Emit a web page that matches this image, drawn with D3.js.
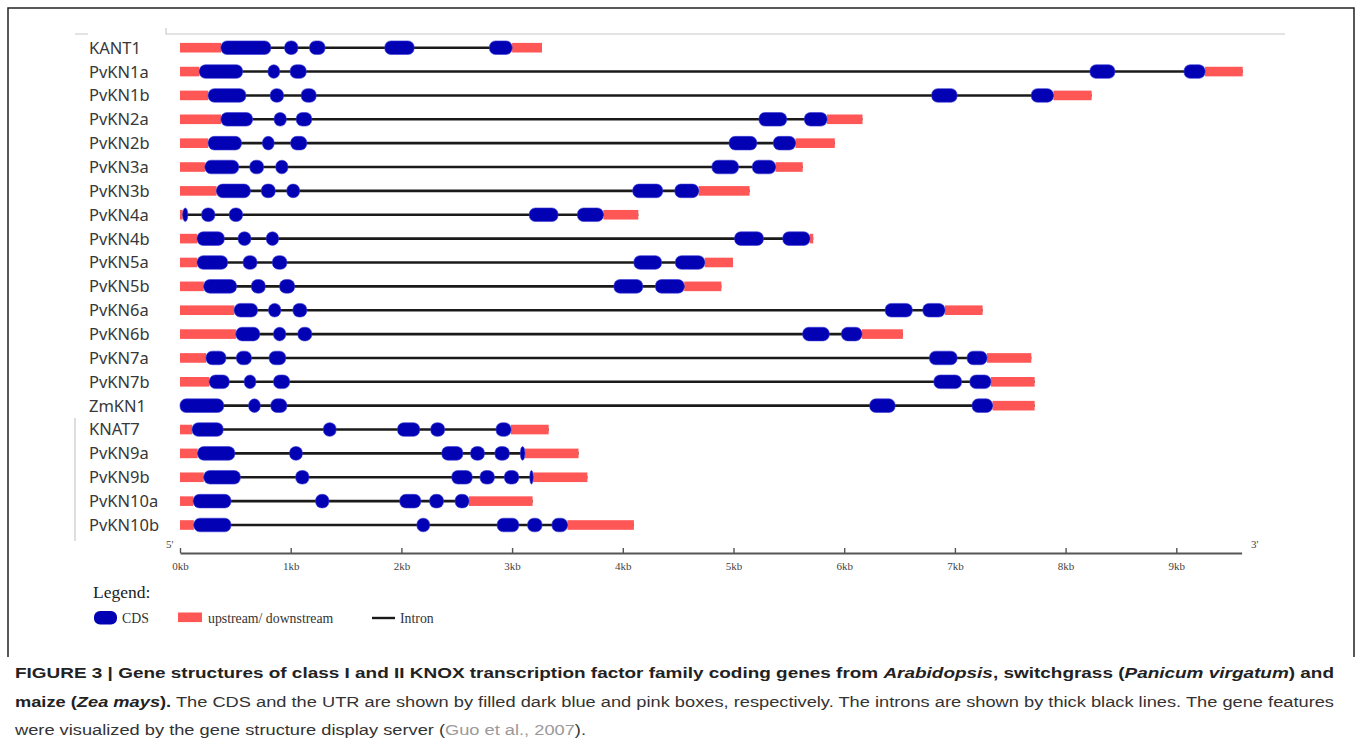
<!DOCTYPE html>
<html>
<head>
<meta charset="utf-8">
<script src="https://cdn.jsdelivr.net/npm/d3@7"></script>
<style>
  body { margin: 0; background: #fff; }
  svg { display: block; }
</style>
</head>
<body>
<div id="vis1"></div>
<script>
// gene names, top to bottom
const GENES = ['KANT1', 'PvKN1a', 'PvKN1b', 'PvKN2a', 'PvKN2b', 'PvKN3a', 'PvKN3b',
  'PvKN4a', 'PvKN4b', 'PvKN5a', 'PvKN5b', 'PvKN6a', 'PvKN6b', 'PvKN7a', 'PvKN7b',
  'ZmKN1', 'KNAT7', 'PvKN9a', 'PvKN9b', 'PvKN10a', 'PvKN10b'];

// CDS exons per gene, [start, end] in bp
const CDS = [
  [[370, 820], [945, 1065], [1170, 1310], [1850, 2115], [2795, 3000]],
  [[175, 565], [795, 900], [995, 1140], [8220, 8445], [9070, 9260]],
  [[255, 595], [815, 935], [1095, 1230], [6790, 7020], [7690, 7890]],
  [[370, 655], [850, 960], [1050, 1190], [5230, 5480], [5640, 5845]],
  [[255, 555], [745, 850], [1000, 1145], [4960, 5210], [5360, 5560]],
  [[225, 530], [630, 755], [865, 975], [4805, 5045], [5170, 5380]],
  [[330, 635], [735, 860], [965, 1080], [4090, 4360], [4470, 4685]],
  [[25, 70], [195, 315], [445, 565], [3155, 3415], [3590, 3825]],
  [[155, 400], [525, 640], [780, 890], [5010, 5270], [5445, 5690]],
  [[155, 430], [570, 695], [835, 965], [4100, 4350], [4475, 4740]],
  [[215, 510], [645, 770], [900, 1035], [3920, 4180], [4295, 4555]],
  [[490, 700], [800, 910], [1020, 1145], [6370, 6615], [6710, 6910]],
  [[505, 720], [845, 955], [1065, 1190], [5625, 5865], [5975, 6160]],
  [[235, 415], [510, 645], [805, 955], [6770, 7020], [7110, 7290]],
  [[265, 445], [580, 685], [845, 990], [6810, 7060], [7135, 7325]],
  [[0, 395], [620, 725], [820, 965], [6230, 6460], [7155, 7340]],
  [[110, 390], [1295, 1410], [1965, 2165], [2265, 2390], [2855, 2990]],
  [[160, 495], [990, 1105], [2365, 2555], [2625, 2750], [2845, 2975], [3075, 3115]],
  [[215, 545], [1045, 1165], [2455, 2640], [2710, 2840], [2930, 3060], [3160, 3190]],
  [[120, 460], [1225, 1345], [1985, 2175], [2255, 2380], [2485, 2610]],
  [[125, 460], [2140, 2255], [2865, 3060], [3140, 3270], [3360, 3500]]
];

// upstream / downstream regions per gene
const UTR = [
  [[0, 370], [3000, 3270]],
  [[0, 175], [9260, 9600]],
  [[0, 255], [7890, 8235]],
  [[0, 370], [5845, 6165]],
  [[0, 255], [5560, 5915]],
  [[0, 225], [5380, 5625]],
  [[0, 330], [4685, 5145]],
  [[0, 25], [3825, 4140]],
  [[0, 155], [5690, 5720]],
  [[0, 155], [4740, 4995]],
  [[0, 215], [4555, 4890]],
  [[0, 490], [6910, 7250]],
  [[0, 505], [6160, 6530]],
  [[0, 235], [7290, 7690]],
  [[0, 265], [7325, 7720]],
  [[7340, 7720]],
  [[0, 110], [2990, 3330]],
  [[0, 160], [3115, 3600]],
  [[0, 215], [3190, 3680]],
  [[0, 120], [2610, 3185]],
  [[0, 125], [3500, 4100]]
];

const TICKS = [0, 1000, 2000, 3000, 4000, 5000, 6000, 7000, 8000, 9000];
const AXIS_MAX = 9590;

const FRAME_WIDTH = 1357;
const FRAME_HEIGHT = 742;
const BLUE = '#0202b4';
const PINK = '#ff5656';

const svg = d3.select('#vis1')
  .append('svg')
    .attr('width', FRAME_WIDTH)
    .attr('height', FRAME_HEIGHT);

const X_SCALE = d3.scaleLinear()
  .domain([0, AXIS_MAX])
  .range([180, 180 + AXIS_MAX / 1000 * 110.7]);

const Y_SCALE = d3.scalePoint()
  .domain(GENES)
  .range([47.7, 525]);

// figure frame and faint guide lines
svg.append('path')
  .attr('d', 'M8,657V8H1354V657')
  .attr('fill', 'none')
  .attr('stroke', '#222')
  .attr('stroke-width', 1.5);

svg.append('path')
  .attr('d', 'M166,28V34H1285M75,34H88M75,418V541')
  .attr('fill', 'none')
  .attr('stroke', '#c8c8c8')
  .attr('stroke-width', 1.2);

// gene labels
svg.selectAll('.gname')
  .data(GENES)
  .enter()
  .append('text')
    .attr('class', 'gname')
    .attr('x', 89)
    .attr('y', (d) => Y_SCALE(d))
    .attr('dy', '0.36em')
    .attr('font-family', 'Noto Sans, sans-serif')
    .attr('font-size', '16.5px')
    .attr('fill', '#383838')
    .text((d) => d);

const rows = svg.selectAll('.gene')
  .data(GENES.map((g, i) => ({ name: g, cds: CDS[i], utr: UTR[i] })))
  .enter()
  .append('g')
    .attr('class', 'gene')
    .attr('transform', (d) => 'translate(0,' + Y_SCALE(d.name) + ')');

// introns: line across the whole gene
rows.append('line')
  .attr('x1', (d) => X_SCALE(d3.min(d.cds.concat(d.utr), (s) => s[0])))
  .attr('x2', (d) => X_SCALE(d3.max(d.cds.concat(d.utr), (s) => s[1])))
  .attr('stroke', '#1a1a1a')
  .attr('stroke-width', 2.6);

rows.selectAll('.utr')
  .data((d) => d.utr)
  .enter()
  .append('rect')
    .attr('class', 'utr')
    .attr('x', (s) => X_SCALE(s[0]))
    .attr('width', (s) => X_SCALE(s[1]) - X_SCALE(s[0]))
    .attr('y', -4.8)
    .attr('height', 9.6)
    .attr('fill', PINK);

rows.selectAll('.cds')
  .data((d) => d.cds)
  .enter()
  .append('rect')
    .attr('class', 'cds')
    .attr('x', (s) => X_SCALE(s[0]))
    .attr('width', (s) => X_SCALE(s[1]) - X_SCALE(s[0]))
    .attr('y', -6.8)
    .attr('height', 13.6)
    .attr('rx', (s) => Math.min(6, (X_SCALE(s[1]) - X_SCALE(s[0])) / 2))
    .attr('ry', 6)
    .attr('fill', BLUE)
    .attr('stroke', '#3b3bd8')
    .attr('stroke-width', 0.6);

// scale axis
const axis = svg.append('g')
  .attr('transform', 'translate(0,553)')
  .call(d3.axisBottom(X_SCALE)
    .tickValues(TICKS)
    .tickSizeInner(-5)
    .tickSizeOuter(0)
    .tickPadding(9)
    .tickFormat((d) => (d / 1000) + 'kb'));

axis.select('.domain')
  .attr('stroke', '#555')
  .attr('stroke-width', 2.2);
axis.selectAll('.tick line')
  .attr('stroke', '#555')
  .attr('stroke-width', 1.4);
axis.selectAll('.tick text')
  .attr('font-family', 'Liberation Serif, serif')
  .attr('font-size', '11px')
  .attr('fill', '#444');

svg.append('text')
  .attr('x', 166).attr('y', 548)
  .attr('font-family', 'Liberation Serif, serif')
  .attr('font-size', '11px')
  .attr('fill', '#444')
  .text("5'");
svg.append('text')
  .attr('x', 1251).attr('y', 548)
  .attr('font-family', 'Liberation Serif, serif')
  .attr('font-size', '11px')
  .attr('fill', '#444')
  .text("3'");

// legend
const SERIF = 'Liberation Serif, serif';
svg.append('text')
  .attr('x', 93).attr('y', 598)
  .attr('font-family', SERIF)
  .attr('font-size', '17.5px')
  .attr('fill', '#222')
  .text('Legend:');

svg.append('rect')
  .attr('x', 94).attr('y', 611).attr('width', 23).attr('height', 13.6)
  .attr('rx', 6).attr('ry', 6)
  .attr('fill', BLUE);
svg.append('rect')
  .attr('x', 178).attr('y', 612.5).attr('width', 24).attr('height', 9.6)
  .attr('fill', PINK);
svg.append('line')
  .attr('x1', 372).attr('x2', 395).attr('y1', 618).attr('y2', 618)
  .attr('stroke', '#1a1a1a').attr('stroke-width', 2.4);

svg.selectAll('.legtext')
  .data([[122, 'CDS'], [208, 'upstream/ downstream'], [400, 'Intron']])
  .enter()
  .append('text')
    .attr('class', 'legtext')
    .attr('x', (d) => d[0])
    .attr('y', 622.5)
    .attr('font-family', SERIF)
    .attr('font-size', '13.8px')
    .attr('fill', '#333')
    .text((d) => d[1]);

// caption
const SANS = 'Liberation Sans, Arial, sans-serif';
const cap1 = svg.append('text')
  .attr('x', 15).attr('y', 678)
  .attr('font-family', SANS).attr('font-size', '15.5px')
  .attr('font-weight', 'bold').attr('fill', '#222')
  .attr('textLength', 1319).attr('lengthAdjust', 'spacingAndGlyphs');
cap1.append('tspan').text('FIGURE 3 | Gene structures of class I and II KNOX transcription factor family coding genes from ');
cap1.append('tspan').attr('font-style', 'italic').text('Arabidopsis');
cap1.append('tspan').text(', switchgrass (');
cap1.append('tspan').attr('font-style', 'italic').text('Panicum virgatum');
cap1.append('tspan').text(') and');

const cap2 = svg.append('text')
  .attr('x', 15).attr('y', 707)
  .attr('font-family', SANS).attr('font-size', '15.5px')
  .attr('fill', '#333')
  .attr('textLength', 1319).attr('lengthAdjust', 'spacingAndGlyphs');
cap2.append('tspan').attr('font-weight', 'bold').attr('fill', '#222').text('maize (');
cap2.append('tspan').attr('font-weight', 'bold').attr('font-style', 'italic').attr('fill', '#222').text('Zea mays');
cap2.append('tspan').attr('font-weight', 'bold').attr('fill', '#222').text(').');
cap2.append('tspan').text(' The CDS and the UTR are shown by filled dark blue and pink boxes, respectively. The introns are shown by thick black lines. The gene features');

const cap3 = svg.append('text')
  .attr('x', 15).attr('y', 735)
  .attr('font-family', SANS).attr('font-size', '15.5px')
  .attr('fill', '#333')
  .attr('textLength', 571).attr('lengthAdjust', 'spacingAndGlyphs');
cap3.append('tspan').text('were visualized by the gene structure display server (');
cap3.append('tspan').attr('fill', '#9a9a9a').text('Guo et al., 2007');
cap3.append('tspan').text(').');
</script>
</body>
</html>
